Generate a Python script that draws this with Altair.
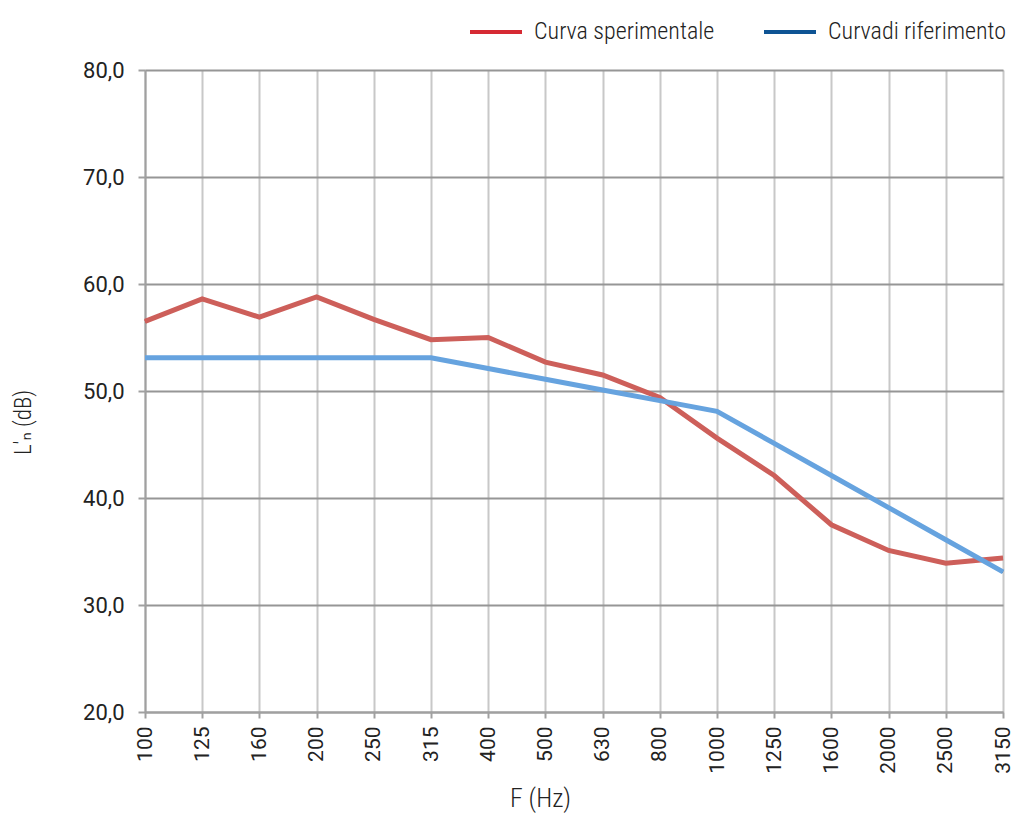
import altair as alt
import pandas as pd

freqs = ["100", "125", "160", "200", "250", "315", "400", "500", "630", "800",
         "1000", "1250", "1600", "2000", "2500", "3150"]
sperimentale = [56.5, 58.6, 56.9, 58.8, 56.7, 54.8, 55.0, 52.7, 51.5, 49.4,
                45.6, 42.1, 37.5, 35.1, 33.9, 34.4]
riferimento = [53.1, 53.1, 53.1, 53.1, 53.1, 53.1, 52.1, 51.1, 50.1, 49.1,
               48.1, 45.1, 42.1, 39.1, 36.1, 33.1]
series_names = ["Curva sperimentale", "Curvadi riferimento"]
line_colors = ["#CD5F5A", "#66A3DF"]
legend_colors = ["#D62A33", "#0E5494"]

rows = []
for i, f in enumerate(freqs):
    rows.append({"F": f, "L": sperimentale[i], "serie": series_names[0]})
    rows.append({"F": f, "L": riferimento[i], "serie": series_names[1]})
df = pd.DataFrame(rows)

tick_font = "Roboto"
cond_font = "Roboto Condensed, DejaVu Sans Condensed, Liberation Sans Narrow, Lato"

x_enc = alt.X("F:N", sort=freqs, scale=alt.Scale(type="point", padding=0),
              axis=alt.Axis(title="F (Hz)", labelAngle=-90, labelAlign="right",
                            labelBaseline="middle", labelFontSize=21, labelFont=tick_font,
                            labelColor="#222", labelPadding=8,
                            grid=True, gridColor="#C8C8C8", gridWidth=2,
                            domainColor="#A0A0A0", domainWidth=2,
                            tickColor="#A0A0A0", tickWidth=2, tickSize=6,
                            titleFont=cond_font, titleFontSize=26, titleFontWeight=300,
                            titleColor="#222", titlePadding=12, titleX=395))
y_enc = alt.Y("L:Q", scale=alt.Scale(domain=[20, 80], nice=False),
              axis=alt.Axis(title="L'ₙ (dB)", values=[20, 30, 40, 50, 60, 70, 80],
                            labelExpr="replace(format(datum.value, '.1f'), '.', ',')",
                            labelFontSize=22, labelFont=tick_font, labelColor="#222",
                            labelPadding=14,
                            grid=True, gridColor="#969696", gridWidth=2,
                            domainColor="#A0A0A0", domainWidth=2,
                            tickColor="#A0A0A0", tickWidth=2, tickSize=7,
                            titleFont=cond_font, titleFontSize=23, titleFontWeight=300,
                            titleColor="#222", titlePadding=47, titleY=352))

base = alt.Chart(df)

legend_layer = base.mark_line(strokeWidth=3).encode(
    x=x_enc, y=y_enc,
    color=alt.Color("serie:N", sort=series_names,
                    scale=alt.Scale(domain=series_names, range=legend_colors),
                    legend=alt.Legend(title=None, orient="none", direction="horizontal",
                                      legendX=323, legendY=-66, padding=0,
                                      symbolType="stroke", symbolSize=2704,
                                      symbolStrokeWidth=4, labelFont=cond_font,
                                      labelFontSize=24, labelFontWeight=300,
                                      labelColor="#222",
                                      labelLimit=400, columnPadding=41,
                                      labelOffset=10)),
)

red = base.transform_filter(alt.datum.serie == series_names[0]).mark_line(
    strokeWidth=5, color=line_colors[0]).encode(x=x_enc, y=y_enc)
blue = base.transform_filter(alt.datum.serie == series_names[1]).mark_line(
    strokeWidth=5, color=line_colors[1]).encode(x=x_enc, y=y_enc)

chart = alt.layer(legend_layer, red, blue).properties(
    width=858, height=642,
    autosize=alt.AutoSizeParams(type="none"),
    padding={"left": 137, "top": 62, "right": 8, "bottom": 101},
).configure_view(stroke=None).configure(background="white")

chart.save("out.html", embed_options={"renderer": "svg", "actions": False})
